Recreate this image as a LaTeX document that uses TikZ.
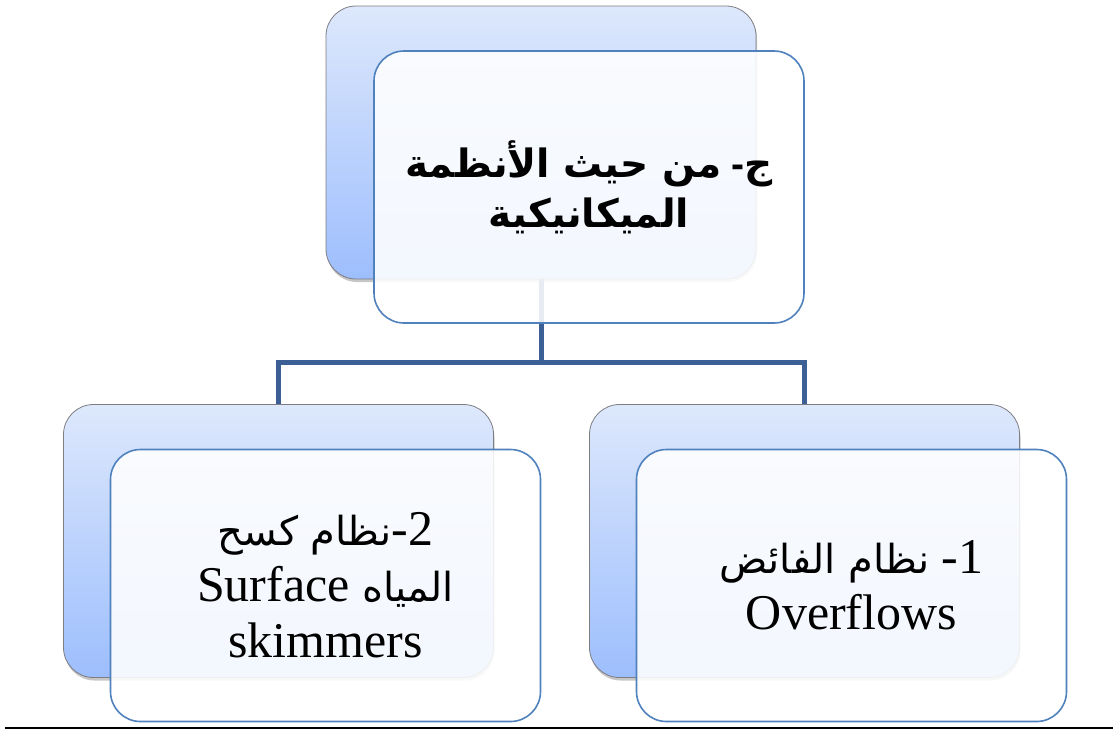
\documentclass[tikz,border=0pt]{standalone}
\usepackage{fontspec}
\setmainfont{Liberation Serif}
\newfontfamily\ar[Script=Arabic]{DejaVu Sans}
\newfontfamily\lsans{Liberation Sans}
\TeXXeTstate=1
\usetikzlibrary{shadows}
\pgfdeclarelayer{bg}
\pgfsetlayers{bg,main}
\definecolor{backtop}{RGB}{221,232,252}
\definecolor{backbot}{RGB}{157,190,253}
\definecolor{frontline}{RGB}{79,129,189}
\definecolor{connc}{RGB}{60,96,150}
\definecolor{backline}{RGB}{125,125,130}
\tikzset{
  backbox/.style={draw=backline, line width=0.8pt, rounded corners=30pt,
    top color=backtop, bottom color=backbot, minimum width=430pt, minimum height=273pt,
    inner sep=0pt, drop shadow={opacity=0.45, shadow xshift=1pt, shadow yshift=-3pt}},
  frontbox/.style={draw=frontline, line width=1.6pt, rounded corners=30pt,
    fill=white, fill opacity=0.88, text opacity=1, minimum width=430pt, minimum height=272pt,
    inner sep=0pt, align=center},
  conn/.style={draw=connc, line width=5pt},
}
\begin{document}
\begin{tikzpicture}[x=1pt,y=-1pt]
\useasboundingbox (0,0) rectangle (1113,729);
% back boxes
\node[backbox] (tb) at (541,142.5) {};
\node[backbox] (bl) at (278.5,541) {};
\node[backbox] (br) at (804.5,541) {};
% connectors (behind the boxes)
\coordinate (j) at (541,362);
\begin{pgfonlayer}{bg}
\draw[conn] (tb.south) -- (j);
\draw[conn] (bl.north) |- (j);
\draw[conn] (br.north) |- (j);
\end{pgfonlayer}
% front boxes
\node[frontbox, font={\fontsize{39}{50}\selectfont\bfseries}] (tf) at (589,187)
  {{\ar\beginR من حيث الأنظمة\endR}\ {\lsans -}{\ar ج}\\{\ar الميكانيكية}};
\node[frontbox, font={\fontsize{50}{56}\selectfont}] (blf) at (325.5,585.5)
  {{\ar\fontsize{40}{56}\selectfont\beginR نظام كسح\endR}-2\\Surface {\ar\fontsize{40}{56}\selectfont المياه}\\skimmers};
\node[frontbox, font={\fontsize{50}{56}\selectfont}] (brf) at (851.5,585.5)
  {{\ar\fontsize{40}{56}\selectfont\beginR نظام الفائض\endR} -1\\Overflows};
% bottom rule
\coordinate (r1) at (5,728);
\coordinate (r2) at (1113,728);
\draw[black, line width=1.5pt] (r1) -- (r2);
\end{tikzpicture}
\end{document}
